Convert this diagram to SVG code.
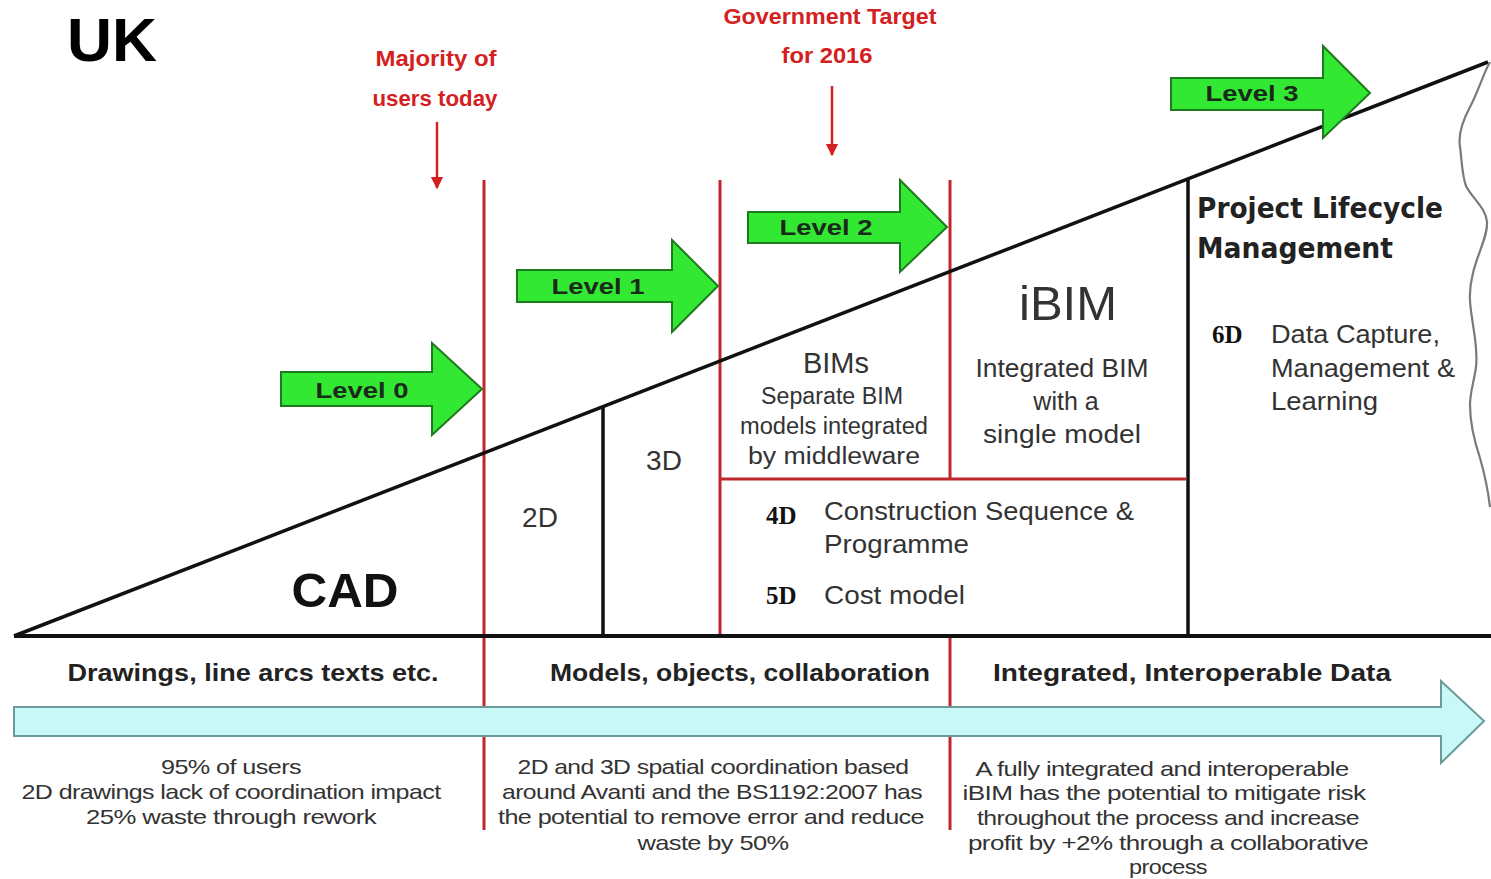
<svg xmlns="http://www.w3.org/2000/svg" width="1491" height="879" viewBox="0 0 1491 879">
<style>
.red{stroke:#c0262c;stroke-width:3;fill:none}
.blk{stroke:#111;stroke-width:3.5;fill:none}
.rt{font-family:"Liberation Sans",Arial,sans-serif;font-weight:bold;fill:#d42020;font-size:22px;text-anchor:middle}
.lv{font-family:"Liberation Sans",Arial,sans-serif;font-weight:bold;fill:#1a2a1a;font-size:22px;text-anchor:middle}
.garrow{fill:#33e833;stroke:#1f7a1f;stroke-width:2}
.g{font-family:"Liberation Sans",Arial,sans-serif;fill:#333}
.gb{font-family:"DejaVu Sans",Verdana,sans-serif;font-weight:bold;fill:#222}
.dd{font-family:"Liberation Serif","Times New Roman",serif;font-weight:bold;fill:#111;font-size:25px}
.bt{font-family:"Liberation Sans",Arial,sans-serif;font-weight:bold;fill:#222;font-size:24px;text-anchor:middle}
.desc{font-family:"Liberation Sans",Arial,sans-serif;fill:#333;font-size:21px;text-anchor:middle;letter-spacing:-0.5px}
</style>
<defs>
<marker id="rarr" viewBox="0 0 10 10" refX="9" refY="5" markerWidth="5" markerHeight="6" orient="auto" markerUnits="strokeWidth">
<path d="M0,0 L10,5 L0,10 Z" fill="#d42020"/>
</marker>
</defs>
<rect width="1491" height="879" fill="#fff"/>

<g id="uk-title">
<text x="67" y="61" font-family="'Liberation Sans',Arial,sans-serif" font-weight="bold" font-size="62" fill="#000" textLength="90" lengthAdjust="spacingAndGlyphs">UK</text>
</g>

<g id="bottom-arrow">
<path d="M14,707 L1441,707 L1441,681 L1484,721 L1441,763 L1441,736 L14,736 Z" fill="#c8f8f8" stroke="#6a9a9a" stroke-width="2"/>
</g>

<g id="connectors">
<line class="red" x1="484" y1="180" x2="484" y2="706"/>
<line class="red" x1="484" y1="737" x2="484" y2="830"/>
<line class="red" x1="720" y1="180" x2="720" y2="636"/>
<line class="red" x1="950" y1="180" x2="950" y2="479"/>
<line class="red" x1="950" y1="638" x2="950" y2="706"/>
<line class="red" x1="950" y1="737" x2="950" y2="830"/>
<line class="red" x1="720" y1="479" x2="1186" y2="479"/>
<line class="blk" x1="14" y1="636" x2="1488" y2="62"/>
<line x1="14" y1="636" x2="1491" y2="636" stroke="#111" stroke-width="4"/>
<line class="blk" x1="603" y1="407" x2="603" y2="636"/>
<line class="blk" x1="1188" y1="180" x2="1188" y2="636"/>
<path d="M1490,62 C1484,72 1478,92 1470,107 C1462,122 1458,135 1460,147 C1462,162 1462,175 1466,186 C1472,198 1486,208 1487,222 C1488,236 1478,252 1473,273 C1468,292 1470,305 1472,318 C1474,333 1478,350 1476,367 C1474,382 1470,392 1470,405 C1470,420 1474,440 1480,458 C1484,472 1488,490 1490,507" fill="none" stroke="#7a7a7a" stroke-width="2.2"/>
<line x1="437" y1="122" x2="437" y2="188" stroke="#d42020" stroke-width="2.5" marker-end="url(#rarr)"/>
<line x1="832" y1="86" x2="832" y2="155" stroke="#d42020" stroke-width="2.5" marker-end="url(#rarr)"/>
</g>

<g id="note-majority">
<text class="rt" x="436" y="66" textLength="121" lengthAdjust="spacingAndGlyphs">Majority of</text>
<text class="rt" x="435" y="106" textLength="125" lengthAdjust="spacingAndGlyphs">users today</text>
</g>
<g id="note-government">
<text class="rt" x="830" y="24" textLength="213" lengthAdjust="spacingAndGlyphs">Government Target</text>
<text class="rt" x="827" y="63" textLength="91" lengthAdjust="spacingAndGlyphs">for 2016</text>
</g>

<g id="level0">
<path class="garrow" d="M281,372 L432,372 L432,343 L482,389 L432,435 L432,406 L281,406 Z"/>
<text class="lv" x="362" y="398" textLength="93" lengthAdjust="spacingAndGlyphs">Level 0</text>
</g>
<g id="level1">
<path class="garrow" d="M517,270 L672,270 L672,240 L718,286 L672,332 L672,302 L517,302 Z"/>
<text class="lv" x="598" y="294" textLength="93" lengthAdjust="spacingAndGlyphs">Level 1</text>
</g>
<g id="level2">
<path class="garrow" d="M748,212 L900,212 L900,180 L947,227 L900,272 L900,243 L748,243 Z"/>
<text class="lv" x="826" y="235" textLength="93" lengthAdjust="spacingAndGlyphs">Level 2</text>
</g>
<g id="level3">
<path class="garrow" d="M1171,78 L1323,78 L1323,46 L1370,93 L1323,138 L1323,110 L1171,110 Z"/>
<text class="lv" x="1252" y="101" textLength="93" lengthAdjust="spacingAndGlyphs">Level 3</text>
</g>

<g id="cad">
<text x="345" y="607" font-family="'Liberation Sans',Arial,sans-serif" font-weight="bold" font-size="48" fill="#111" text-anchor="middle" textLength="107" lengthAdjust="spacingAndGlyphs">CAD</text>
</g>
<g id="d2">
<text class="g" x="540" y="527" font-size="28" text-anchor="middle">2D</text>
</g>
<g id="d3">
<text class="g" x="664" y="470" font-size="28" text-anchor="middle">3D</text>
</g>
<g id="bims">
<text class="g" x="836" y="373" font-size="29" text-anchor="middle">BIMs</text>
<text class="g" x="832" y="404" font-size="23" text-anchor="middle" textLength="142" lengthAdjust="spacingAndGlyphs">Separate BIM</text>
<text class="g" x="834" y="434" font-size="23" text-anchor="middle" textLength="188" lengthAdjust="spacingAndGlyphs">models integrated</text>
<text class="g" x="834" y="464" font-size="23" text-anchor="middle" textLength="172" lengthAdjust="spacingAndGlyphs">by middleware</text>
</g>
<g id="ibim">
<text class="g" x="1068" y="320" font-size="48" text-anchor="middle" textLength="98" lengthAdjust="spacingAndGlyphs">iBIM</text>
<text class="g" x="1062" y="377" font-size="25" text-anchor="middle" textLength="173" lengthAdjust="spacingAndGlyphs">Integrated BIM</text>
<text class="g" x="1066" y="410" font-size="25" text-anchor="middle">with a</text>
<text class="g" x="1062" y="443" font-size="25" text-anchor="middle" textLength="158" lengthAdjust="spacingAndGlyphs">single model</text>
</g>
<g id="dims45">
<text class="dd" x="766" y="524">4D</text>
<text class="g" x="824" y="520" font-size="25" textLength="310" lengthAdjust="spacingAndGlyphs">Construction Sequence &amp;</text>
<text class="g" x="824" y="553" font-size="25" textLength="145" lengthAdjust="spacingAndGlyphs">Programme</text>
<text class="dd" x="766" y="604">5D</text>
<text class="g" x="824" y="604" font-size="25" textLength="141" lengthAdjust="spacingAndGlyphs">Cost model</text>
</g>
<g id="plm">
<text class="gb" x="1197" y="218" font-size="28" textLength="246" lengthAdjust="spacingAndGlyphs">Project Lifecycle</text>
<text class="gb" x="1197" y="258" font-size="28" textLength="196" lengthAdjust="spacingAndGlyphs">Management</text>
<text class="dd" x="1212" y="343">6D</text>
<text class="g" x="1271" y="343" font-size="25" textLength="169" lengthAdjust="spacingAndGlyphs">Data Capture,</text>
<text class="g" x="1271" y="377" font-size="25" textLength="184" lengthAdjust="spacingAndGlyphs">Management &amp;</text>
<text class="g" x="1271" y="410" font-size="25" textLength="107" lengthAdjust="spacingAndGlyphs">Learning</text>
</g>

<g id="band-cad">
<text class="bt" x="253" y="681" textLength="371" lengthAdjust="spacingAndGlyphs">Drawings, line arcs texts etc.</text>
<text class="desc" x="231" y="774" textLength="140" lengthAdjust="spacingAndGlyphs">95% of users</text>
<text class="desc" x="231" y="799" textLength="419" lengthAdjust="spacingAndGlyphs">2D drawings lack of coordination impact</text>
<text class="desc" x="231" y="824" textLength="290" lengthAdjust="spacingAndGlyphs">25% waste through rework</text>
</g>
<g id="band-models">
<text class="bt" x="740" y="681" textLength="380" lengthAdjust="spacingAndGlyphs">Models, objects, collaboration</text>
<text class="desc" x="713" y="774" textLength="391" lengthAdjust="spacingAndGlyphs">2D and 3D spatial coordination based</text>
<text class="desc" x="712" y="799" textLength="420" lengthAdjust="spacingAndGlyphs">around Avanti and the BS1192:2007 has</text>
<text class="desc" x="711" y="824" textLength="426" lengthAdjust="spacingAndGlyphs">the potential to remove error and reduce</text>
<text class="desc" x="713" y="850" textLength="151" lengthAdjust="spacingAndGlyphs">waste by 50%</text>
</g>
<g id="band-integrated">
<text class="bt" x="1192" y="681" textLength="398" lengthAdjust="spacingAndGlyphs">Integrated, Interoperable Data</text>
<text class="desc" x="1162" y="776" textLength="373" lengthAdjust="spacingAndGlyphs">A fully integrated and interoperable</text>
<text class="desc" x="1164" y="800" textLength="403" lengthAdjust="spacingAndGlyphs">iBIM has the potential to mitigate risk</text>
<text class="desc" x="1168" y="825" textLength="382" lengthAdjust="spacingAndGlyphs">throughout the process and increase</text>
<text class="desc" x="1168" y="850" textLength="400" lengthAdjust="spacingAndGlyphs">profit by +2% through a collaborative</text>
<text class="desc" x="1168" y="874" textLength="78" lengthAdjust="spacingAndGlyphs">process</text>
</g>
</svg>
